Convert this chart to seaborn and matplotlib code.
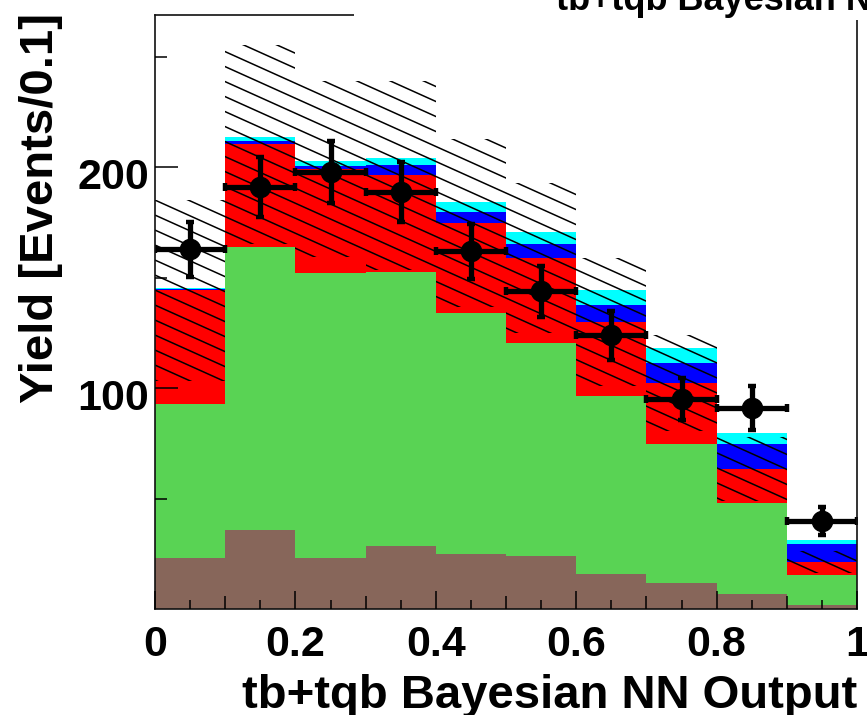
import numpy as np
import pandas as pd
import matplotlib
matplotlib.use("Agg")
import matplotlib.pyplot as plt
import seaborn as sns
from matplotlib.collections import LineCollection
from matplotlib.patches import Polygon, Rectangle
from matplotlib.transforms import ScaledTranslation
from matplotlib.ticker import FixedLocator, FixedFormatter

# ---------------- data ----------------
bin_edges = [0.0, 0.1, 0.2, 0.3, 0.4, 0.5, 0.6, 0.7, 0.8, 0.9, 1.0]
bin_centers = [0.05, 0.15, 0.25, 0.35, 0.45, 0.55, 0.65, 0.75, 0.85, 0.95]

multijets = [23.0, 36.0, 23.0, 28.5, 25.0, 24.0, 16.0, 12.0, 7.0, 2.0]
wjets = [70.0, 128.0, 129.0, 124.0, 109.0, 96.5, 80.4, 63.0, 41.0, 13.4]
ttbar = [51.3, 46.4, 47.3, 43.9, 40.8, 38.5, 33.6, 27.4, 15.7, 6.0]
tb = [0.6, 1.6, 1.5, 4.6, 5.2, 6.5, 7.9, 9.1, 11.3, 8.3]
tqb = [0.6, 2.0, 2.3, 3.4, 4.3, 5.5, 6.8, 6.7, 4.8, 1.5]

data_yield = [163, 191, 198, 189, 162, 144, 124, 95, 91, 40]
data_err = [12.5, 13.5, 14.0, 13.5, 12.5, 11.5, 11.0, 9.5, 10.0, 6.5]

bkg_unc = [41.0, 45.0, 40.0, 42.6, 38.0, 34.0, 29.0, 21.6, 14.5, 5.0]

x_tick_values = [0.0, 0.1, 0.2, 0.3, 0.4, 0.5, 0.6, 0.7, 0.8, 0.9, 1.0]
x_tick_labels = ["0", "", "0.2", "", "0.4", "", "0.6", "", "0.8", "", "1"]
x_minor_values = [0.05, 0.15, 0.25, 0.35, 0.45, 0.55, 0.65, 0.75, 0.85, 0.95]
y_tick_values = [100, 200]
y_tick_labels = ["100", "200"]
y_minor_values = [50, 150, 250]

process_order = ["tqb", "tb", "ttbar", "wjets", "multijets"]   # top -> bottom
process_colors = {"tqb": "#00FFFF", "tb": "#0000FF", "ttbar": "#FF0000",
                  "wjets": "#59D354", "multijets": "#87665A"}

x_label = "tb+tqb Bayesian NN Output"
y_label = "Yield [Events/0.1]"
title_text = "tb+tqb Bayesian NN Output"

# ---------------- style ----------------
sns.set_theme(style="ticks")
plt.rcParams["font.family"] = ["Liberation Sans", "DejaVu Sans"]
plt.rcParams["font.weight"] = "bold"
plt.rcParams["text.color"] = "black"
plt.rcParams["axes.labelcolor"] = "black"
plt.rcParams["xtick.color"] = "black"
plt.rcParams["ytick.color"] = "black"
plt.rcParams["axes.edgecolor"] = "black"

W, H, DPI = 867, 715, 100
fig = plt.figure(figsize=(W / DPI, H / DPI), dpi=DPI)
ax_l, ax_r, ax_b, ax_t = 155, 857, 609.3, 15
ax = fig.add_axes([ax_l / W, (H - ax_b) / H, (ax_r - ax_l) / W, (ax_b - ax_t) / H])

YMAX = 269.0

# ---------------- stacked histogram via seaborn ----------------
series = {"multijets": multijets, "wjets": wjets, "ttbar": ttbar, "tb": tb, "tqb": tqb}
rows = []
for name, vals in series.items():
    for c, v in zip(bin_centers, vals):
        rows.append({"nn": c, "yield": v, "process": name})
df = pd.DataFrame(rows)

sns.histplot(data=df, x="nn", weights="yield", hue="process",
             hue_order=process_order, palette=process_colors,
             multiple="stack", bins=bin_edges, element="bars",
             fill=True, alpha=1.0, linewidth=0, legend=False, ax=ax)

# drawing order: signal + ttbar below the hatched band, W+jets/multijets above it
rgba_z = {}
for name in ["tqb", "tb", "ttbar"]:
    rgba_z[tuple(np.round(matplotlib.colors.to_rgba(process_colors[name]), 3))] = 1
for name in ["wjets", "multijets"]:
    rgba_z[tuple(np.round(matplotlib.colors.to_rgba(process_colors[name]), 3))] = 3
for p in ax.patches:
    key = tuple(np.round(p.get_facecolor(), 3))
    p.set_zorder(rgba_z.get(key, 1))
    p.set_edgecolor("none")

# ---------------- hatched background-uncertainty band ----------------
edges = np.array(bin_edges)
bkg_total = np.array(multijets) + np.array(wjets) + np.array(ttbar)
hi = bkg_total + np.array(bkg_unc)
lo = bkg_total - np.array(bkg_unc)
xs = np.repeat(edges, 2)[1:-1]
verts = np.column_stack([np.r_[xs, xs[::-1]],
                         np.r_[np.repeat(hi, 2), np.repeat(lo, 2)[::-1]]])
band = Polygon(verts, closed=True, fill=False, edgecolor="none", linewidth=0)
ax.add_patch(band)

ax_w_px = ax_r - ax_l
ax_h_px = ax_b - ax_t
px_per_y = ax_h_px / YMAX
slope = -0.45 * ax_w_px / px_per_y          # data units of y per unit of x
spacing = 15.0 / px_per_y                   # vertical spacing between hatch lines
phase = 266.7 % spacing
offsets = np.arange(phase, YMAX - slope + spacing, spacing)
segs = [[(0.0, c), (1.0, c + slope)] for c in offsets]
lc = LineCollection(segs, colors="black", linewidths=1.1, zorder=2)
ax.add_collection(lc)
lc.set_clip_path(band)

# ---------------- data points ----------------
ax.errorbar(bin_centers, data_yield, xerr=0.05, yerr=data_err, fmt="o",
            color="black", ms=14.5, elinewidth=3.8, capsize=3.0, capthick=3.2,
            zorder=6)

# ---------------- axes ----------------
ax.set_xlim(0, 1)
ax.set_ylim(0, YMAX)
ax.margins(0)
for s in ax.spines.values():
    s.set_visible(True)
    s.set_linewidth(1.2)
    s.set_color("#111111")
    s.set_zorder(10)
ax.xaxis.set_zorder(10)
ax.yaxis.set_zorder(10)

ax.xaxis.set_major_locator(FixedLocator(x_tick_values))
ax.xaxis.set_major_formatter(FixedFormatter(x_tick_labels))
ax.xaxis.set_minor_locator(FixedLocator(x_minor_values))
ax.yaxis.set_major_locator(FixedLocator(y_tick_values))
ax.yaxis.set_major_formatter(FixedFormatter(y_tick_labels))
ax.yaxis.set_minor_locator(FixedLocator(y_minor_values))

ax.tick_params(axis="x", which="major", direction="in", length=13, width=1.1,
               pad=11, labelsize=31, colors="black", top=False, bottom=True)
ax.tick_params(axis="x", which="minor", direction="in", length=6.5, width=1.1,
               top=False, bottom=True, colors="black")
ax.tick_params(axis="y", which="major", direction="in", length=16.5, width=1.1,
               pad=4.3, labelsize=31, colors="black", right=False, left=True)
ax.tick_params(axis="y", which="minor", direction="in", length=8.6, width=1.1,
               right=False, left=True, colors="black")

for t, lab in zip(ax.xaxis.get_major_ticks(), x_tick_labels):
    if lab == "":
        t.tick1line.set_markersize(9.4)
for t in ax.xaxis.get_major_ticks():
    t.label1.set_fontweight("bold")
    t.label1.set_color("black")
for t in ax.yaxis.get_major_ticks():
    t.label1.set_fontweight("bold")
    t.label1.set_color("black")
    t.label1.set_transform(t.label1.get_transform()
                           + ScaledTranslation(0, -6.5 / DPI, fig.dpi_scale_trans))

ax.set_xlabel(x_label, fontsize=34, fontweight="bold", loc="right", color="black")
ax.xaxis.set_label_coords(1.0, -(674 - ax_b) / ax_h_px)
ax.set_ylabel(y_label, fontsize=34, fontweight="bold", loc="top", color="black")
ax.yaxis.set_label_coords((63 - ax_l) / ax_w_px, (ax_b - 13) / ax_h_px)

# ---------------- title pave (cropped at top right) ----------------
fig.patches.append(Rectangle((354 / W, 1 - 20 / H), 1.0, 20 / H,
                             transform=fig.transFigure, facecolor="white",
                             edgecolor="none", zorder=5))
fig.text(556 / W, 1 - 10 / H, title_text, fontsize=26, fontweight="bold",
         ha="left", va="baseline", zorder=6, color="black")

fig.savefig("out.png", dpi=DPI)
